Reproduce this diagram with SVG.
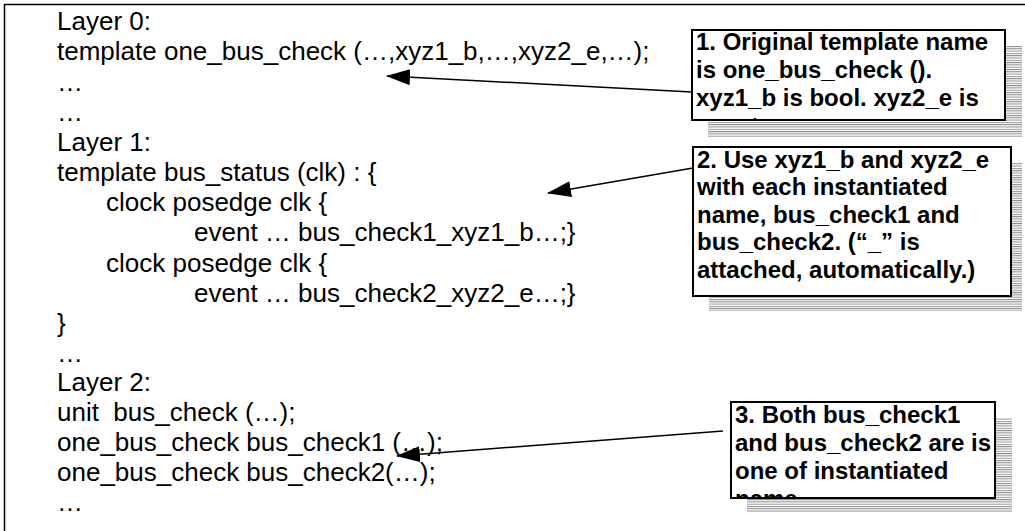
<svg xmlns="http://www.w3.org/2000/svg" width="1025" height="531" viewBox="0 0 1025 531">
<style>
.code{font-family:"Liberation Sans",Arial,sans-serif;font-size:26px;fill:#000}
.note{font-family:"Liberation Sans",Arial,sans-serif;font-size:24px;font-weight:bold;fill:#000}
.box{fill:#fff;stroke:#000;stroke-width:2}
.conn{stroke:#000;stroke-width:1.5;fill:none;marker-end:url(#ah)}
</style>
<defs>
<pattern id="hatch" width="4" height="2.3" patternUnits="userSpaceOnUse">
<rect x="0" y="0" width="4" height="1" fill="#8a8a8a"/>
</pattern>
<marker id="ah" viewBox="0 0 24 16" refX="23" refY="8" markerWidth="24" markerHeight="16" markerUnits="userSpaceOnUse" orient="auto">
<path d="M0,0 L24,8 L0,16 Z" fill="#000"/>
</marker>
<clipPath id="c1"><rect x="693" y="31" width="311" height="88"/></clipPath>
<clipPath id="c2"><rect x="694" y="148" width="316" height="147"/></clipPath>
<clipPath id="c3"><rect x="732" y="403" width="262" height="94"/></clipPath>
</defs>
<rect x="0" y="0" width="1025" height="531" fill="#fff"/>
<g id="frame">
<rect x="4.5" y="4.5" width="1030" height="540" fill="none" stroke="#000" stroke-width="1.5"/>
<text class="code" x="57" y="30">Layer 0:</text>
<text class="code" x="57" y="60">template one_bus_check (…,xyz1_b,…,xyz2_e,…);</text>
<text class="code" x="57" y="90.5">…</text>
<text class="code" x="57" y="120.5">…</text>
<text class="code" x="57" y="150.5">Layer 1:</text>
<text class="code" x="57" y="181">template bus_status (clk) : {</text>
<text class="code" x="106" y="211">clock posedge clk {</text>
<text class="code" x="194" y="241">event … bus_check1_xyz1_b…;}</text>
<text class="code" x="106" y="271.5">clock posedge clk {</text>
<text class="code" x="194" y="301.5">event … bus_check2_xyz2_e…;}</text>
<text class="code" x="57" y="331.5">}</text>
<text class="code" x="57" y="361.5">…</text>
<text class="code" x="57" y="391">Layer 2:</text>
<text class="code" x="57" y="421" xml:space="preserve">unit  bus_check (…);</text>
<text class="code" x="57" y="451">one_bus_check bus_check1 (…);</text>
<text class="code" x="57" y="481">one_bus_check bus_check2(…);</text>
<text class="code" x="57" y="511">…</text>
</g>
<g id="note1">
<rect x="708" y="46" width="314" height="91" fill="url(#hatch)"/>
<rect class="box" x="692" y="30" width="313" height="90"/>
<g clip-path="url(#c1)">
<text class="note" x="696" y="50">1. Original template name</text>
<text class="note" x="696" y="78">is one_bus_check ().</text>
<text class="note" x="696" y="106">xyz1_b is bool. xyz2_e is</text>
<text class="note" x="696" y="134">event.</text>
</g>
</g>
<g id="note2">
<rect x="709" y="163" width="313" height="148" fill="url(#hatch)"/>
<rect class="box" x="693" y="147" width="318" height="149"/>
<g clip-path="url(#c2)">
<text class="note" x="697" y="168">2. Use xyz1_b and xyz2_e</text>
<text class="note" x="697" y="195">with each instantiated</text>
<text class="note" x="697" y="223">name, bus_check1 and</text>
<text class="note" x="697" y="250">bus_check2. (“_” is</text>
<text class="note" x="697" y="278">attached, automatically.)</text>
</g>
</g>
<g id="note3">
<rect x="747" y="418" width="265" height="95" fill="url(#hatch)"/>
<rect class="box" x="731" y="402" width="264" height="96"/>
<g clip-path="url(#c3)">
<text class="note" x="735" y="423">3. Both bus_check1</text>
<text class="note" x="735" y="451">and bus_check2 are is</text>
<text class="note" x="735" y="479">one of instantiated</text>
<text class="note" x="735" y="507">name.</text>
</g>
</g>
<g id="connectors">
<line class="conn" x1="692" y1="92" x2="387" y2="76"/>
<line class="conn" x1="693" y1="168" x2="548" y2="193"/>
<line class="conn" x1="723" y1="431" x2="397" y2="456"/>
</g>
</svg>
